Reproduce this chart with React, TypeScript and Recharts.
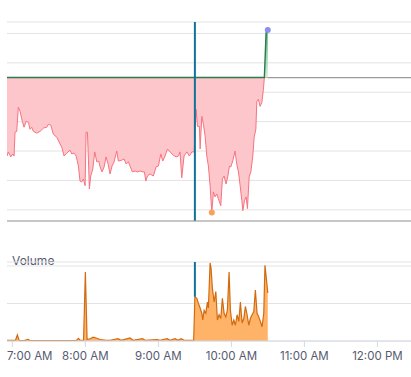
import { AreaChart, Area, XAxis, YAxis, CartesianGrid, ReferenceLine, ReferenceDot } from 'recharts';

// minutes since midnight
const priceTimes = [
    415.6, 416.7, 418.7, 420.3, 421.4, 422.2, 423.6, 424.9, 426.3, 428.2,
    429.6, 431.3, 433.2, 434.5, 435.9, 437.3, 440.1, 442.8, 445.5, 448.3,
    449.6, 451.6, 453.7, 456.5, 459.2, 460.6, 462.5, 464.7, 467.4, 468.8,
    470.7, 472.4, 474.3, 475.6, 477.0, 478.4, 479.8, 480.6, 481.7, 482.5,
    483.3, 484.4, 486.1, 487.7, 489.4, 491.0, 492.1, 493.7, 495.4, 497.0,
    498.7, 500.3, 501.9, 503.6, 505.8, 507.1, 509.9, 511.8, 513.5, 515.4,
    516.7, 518.6, 520.9, 522.8, 525.0, 527.2, 528.5, 529.7, 531.0, 533.2,
    535.9, 538.1, 540.0, 542.0, 543.6, 545.5, 547.4, 549.6, 552.3, 554.6,
    556.5, 557.8, 559.2, 561.1, 563.4, 565.5, 567.5, 569.4, 571.0, 572.1,
    573.7, 574.3, 575.7, 577.0, 578.4, 579.8, 581.1, 582.5, 583.9, 585.2,
    586.6, 588.0, 589.3, 591.3, 592.6, 594.0, 595.6, 597.0, 598.4, 599.5,
    601.1, 603.0, 604.4, 605.8, 607.2, 608.6, 609.4, 610.7, 612.1, 613.2,
    614.6, 616.0, 617.6, 618.7, 620.1, 620.9, 622.2, 623.6, 625.0, 626.3,
    627.1, 628.5, 629.9,
];

const prices = [
    9.583, 9.597, 9.580, 9.590, 9.583, 9.664, 9.667, 9.749, 9.735, 9.701,
    9.681, 9.701, 9.698, 9.674, 9.681, 9.667, 9.661, 9.667, 9.678, 9.681,
    9.691, 9.688, 9.657, 9.647, 9.624, 9.613, 9.583, 9.593, 9.603, 9.590,
    9.593, 9.583, 9.549, 9.498, 9.495, 9.505, 9.482, 9.664, 9.664, 9.573,
    9.471, 9.515, 9.539, 9.597, 9.563, 9.566, 9.546, 9.529, 9.546, 9.580,
    9.556, 9.522, 9.549, 9.563, 9.600, 9.566, 9.569, 9.573, 9.556, 9.563,
    9.549, 9.529, 9.532, 9.529, 9.532, 9.529, 9.529, 9.498, 9.515, 9.522,
    9.515, 9.546, 9.549, 9.590, 9.566, 9.583, 9.607, 9.597, 9.586, 9.580,
    9.583, 9.597, 9.509, 9.583, 9.597, 9.583, 9.597, 9.597, 9.742, 9.684,
    9.684, 9.607, 9.718, 9.691, 9.651, 9.583, 9.549, 9.482, 9.391, 9.461,
    9.444, 9.454, 9.438, 9.414, 9.505, 9.515, 9.488, 9.512, 9.549, 9.546,
    9.566, 9.600, 9.556, 9.529, 9.482, 9.431, 9.397, 9.431, 9.444, 9.404,
    9.512, 9.529, 9.583, 9.647, 9.674, 9.769, 9.776, 9.752, 9.765, 9.809,
    9.850, 10.002, 10.012,
];

const volumeTimes = [
    415.6, 419.8, 422.6, 424.1, 425.5, 429.6, 432.9, 434.5, 472.4, 474.3,
    475.6, 478.5, 480.0, 481.4, 483.9, 486.3, 488.8, 492.1, 497.0, 500.3,
    506.9, 509.3, 516.7, 519.2, 527.0, 529.1, 538.9, 541.4, 547.2, 549.6,
    553.7, 556.2, 558.7, 561.1, 569.0, 570.0, 571.6, 572.9, 574.3, 575.7,
    576.5, 577.6, 579.0, 580.3, 581.1, 582.5, 583.3, 584.4, 585.8, 587.2,
    588.5, 589.9, 591.3, 592.6, 594.0, 595.4, 596.7, 598.1, 599.2, 600.6,
    602.0, 603.3, 604.7, 606.1, 607.4, 608.8, 610.2, 611.5, 612.9, 614.3,
    615.6, 617.0, 618.4, 619.7, 621.1, 622.5, 623.8, 625.2, 626.6, 627.6,
    628.7, 629.9,
];

// thousands of shares
const volumes = [
    1, 1, 1, 8, 1, 0.5, 2, 0.5, 0.5, 3.6,
    1, 1, 92, 2, 3, 5, 4, 2, 1, 1,
    3, 1, 4, 1, 3, 1, 2, 1, 3, 1,
    3, 1, 3, 1, 1, 59, 57, 50, 44, 37,
    28, 41, 37, 52, 44, 104, 97, 70, 52, 66,
    28, 35, 30, 57, 37, 32, 41, 92, 41, 21,
    28, 21, 35, 26, 52, 24, 30, 46, 35, 21,
    30, 35, 39, 68, 37, 32, 26, 19, 37, 101,
    84, 64,
];

const timeTicks = [420, 480, 540, 600, 660, 720];
const priceTicks = [9.4, 9.5, 9.6, 9.7, 9.8, 9.9, 10.0];
const volumeTicks = [0, 50, 100];
const prevClose = 9.85;
const marketOpen = 570;

const timeDomain = [415.6, 747.6];
const priceDomain = [9.362, 10.039];
const volumeDomain = [0, 105.3];

const priceData = priceTimes.map((t, i) => ({
    t,
    low: Math.min(prices[i], prevClose),
    high: Math.max(prices[i], prevClose),
}));

const volumeData = volumeTimes.map((t, i) => ({ t, v: volumes[i] }));

let maxIdx = 0;
let minIdx = 0;
prices.forEach((p, i) => {
    if (p > prices[maxIdx]) maxIdx = i;
    if (p < prices[minIdx]) minIdx = i;
});

const lastTime = priceTimes[priceTimes.length - 1];
const openVolume = volumes[volumeTimes.indexOf(marketOpen)];

const fmtTime = (m: number) => {
    const h = Math.floor(m / 60);
    const mm = Math.round(m % 60);
    const h12 = h % 12 === 0 ? 12 : h % 12;
    return `${h12}:${String(mm).padStart(2, '0')} ${h < 12 ? 'AM' : 'PM'}`;
};

const FONT = 'Inter, "Liberation Sans", sans-serif';
const TEXT = '#555a70';
const BLUE = '#0f7398';
const LEFT = 7;

// first label would spill past the left edge, so pin it to the plot start
const TimeTick = (props: any) => {
    const { x, y, payload, index } = props;
    const first = index === 0;
    return (
        <text
            x={first ? LEFT : x}
            y={y + 3}
            dy="0.71em"
            textAnchor={first ? 'start' : 'middle'}
            fill={TEXT}
            fontSize={11.5}
            fontFamily={FONT}
        >
            {fmtTime(payload.value)}
        </text>
    );
};

export default function App() {
    return (
        <div style={{ position: 'absolute', left: 0, top: 0, width: 411, height: 377, fontFamily: FONT }}>
            <AreaChart width={411} height={224} data={priceData} margin={{ top: 22, right: 0, bottom: 2, left: LEFT }}>
                <defs>
                    <linearGradient id="upFill" x1="0" y1="0" x2="0" y2="1">
                        <stop offset="0%" stopColor="#3aa563" stopOpacity={0.9} />
                        <stop offset="100%" stopColor="#c9ecd4" stopOpacity={0.8} />
                    </linearGradient>
                </defs>
                <CartesianGrid horizontal vertical={false} stroke="#e3e3e3" />
                <XAxis
                    dataKey="t"
                    type="number"
                    domain={timeDomain}
                    ticks={timeTicks}
                    allowDataOverflow
                    tick={false}
                    tickLine={false}
                    height={1}
                    axisLine={{ stroke: '#9b9b9b' }}
                />
                <YAxis hide type="number" domain={priceDomain} ticks={priceTicks} allowDataOverflow />
                {/* gray previous-close line only where there is no data yet */}
                <ReferenceLine
                    segment={[{ x: lastTime, y: prevClose }, { x: timeDomain[1], y: prevClose }]}
                    stroke="#9b9b9b"
                    strokeWidth={1.2}
                />
                <Area
                    type="linear"
                    dataKey="low"
                    baseValue={prevClose}
                    stroke="#f7737f"
                    strokeWidth={1}
                    fill="#fdc6cb"
                    fillOpacity={1}
                    isAnimationActive={false}
                />
                <Area
                    type="linear"
                    dataKey="high"
                    baseValue={prevClose}
                    stroke="#2a7a4c"
                    strokeWidth={1.4}
                    fill="url(#upFill)"
                    fillOpacity={1}
                    isAnimationActive={false}
                />
                <ReferenceLine x={marketOpen} stroke={BLUE} strokeWidth={2} />
                <ReferenceDot x={priceTimes[maxIdx]} y={prices[maxIdx]} r={3} fill="#8a8ff0" stroke="none" />
                <ReferenceDot x={priceTimes[minIdx]} y={prices[minIdx]} r={3} fill="#f6a25c" stroke="none" />
            </AreaChart>
            <div style={{ position: 'absolute', left: 12, top: 254, fontSize: 12, color: TEXT, lineHeight: '14px' }}>
                Volume
            </div>
            <div style={{ position: 'absolute', left: 0, top: 240 }}>
                <AreaChart width={411} height={137} data={volumeData} margin={{ top: 22, right: 0, bottom: 6, left: LEFT }}>
                    <CartesianGrid horizontal vertical={false} stroke="#e3e3e3" />
                    <XAxis
                        dataKey="t"
                        type="number"
                        domain={timeDomain}
                        ticks={timeTicks}
                        allowDataOverflow
                        tickSize={6}
                        height={30}
                        axisLine={{ stroke: '#d3d8e4' }}
                        tickLine={{ stroke: '#d3d8e4' }}
                        tick={<TimeTick />}
                        interval={0}
                    />
                    <YAxis hide type="number" domain={volumeDomain} ticks={volumeTicks} allowDataOverflow />
                    {/* open marker stops where the volume area begins */}
                    <ReferenceLine
                        segment={[{ x: marketOpen, y: openVolume }, { x: marketOpen, y: volumeDomain[1] }]}
                        stroke={BLUE}
                        strokeWidth={2}
                    />
                    <Area
                        type="linear"
                        dataKey="v"
                        stroke="#d26b10"
                        strokeWidth={1.2}
                        fill="#ffb368"
                        fillOpacity={1}
                        isAnimationActive={false}
                    />
                </AreaChart>
            </div>
        </div>
    );
}
